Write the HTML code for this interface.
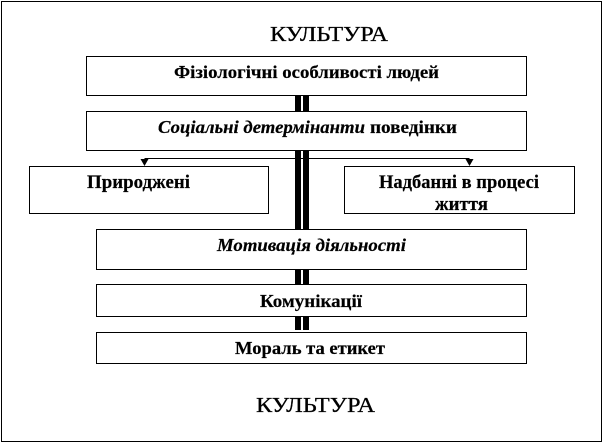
<!DOCTYPE html>
<html><head><meta charset="utf-8">
<style>html,body{margin:0;padding:0;background:#fff}svg{display:block}
text{font-family:"Liberation Serif","Noto Serif CJK SC",serif;fill:#000;font-weight:bold;font-size:17.5px;stroke:#000;stroke-width:.2px}
.c{font-weight:normal;font-size:21px;stroke-width:.3px}
.n{font-size:19px}
.i{font-style:italic}
rect{fill:#fff;stroke:#000;stroke-width:1;shape-rendering:crispEdges}
</style></head><body>
<svg width="604" height="444" viewBox="0 0 604 444" xmlns="http://www.w3.org/2000/svg">
<rect x="1.5" y="1.5" width="600" height="440"/>
<g shape-rendering="crispEdges">
<rect x="295" y="90" width="6" height="240" style="fill:#000;stroke:none"/>
<rect x="303" y="90" width="6" height="240" style="fill:#000;stroke:none"/>
<path d="M144.5 158.5H469.5" stroke="#000" fill="none"/>
</g>
<path d="M140.5 159L148.5 159L144.5 166Z" fill="#000"/>
<path d="M465.5 159L473.5 159L469.5 166Z" fill="#000"/>
<rect x="86.5" y="56.5" width="440" height="39"/>
<rect x="86.5" y="111.5" width="440" height="39"/>
<rect x="29.5" y="166.5" width="239" height="47"/>
<rect x="344.5" y="166.5" width="230" height="47"/>
<rect x="96.5" y="229.5" width="430" height="40"/>
<rect x="96.5" y="284.5" width="430" height="32"/>
<rect x="96.5" y="332.5" width="430" height="31"/>
<text class="c" x="270" y="41" textLength="118" lengthAdjust="spacingAndGlyphs">КУЛЬТУРА</text>
<text class="c" x="256" y="412" textLength="119" lengthAdjust="spacingAndGlyphs">КУЛЬТУРА</text>
<text x="174" y="78" textLength="265" lengthAdjust="spacingAndGlyphs">Фізіологічні особливості людей</text>
<text class="i" x="158" y="133" textLength="207" lengthAdjust="spacingAndGlyphs">Соціальні детермінанти</text>
<text x="370" y="133" textLength="87" lengthAdjust="spacingAndGlyphs">поведінки</text>
<text class="n" x="87" y="188" textLength="103" lengthAdjust="spacingAndGlyphs">Природжені</text>
<text class="n" x="379" y="188" textLength="160" lengthAdjust="spacingAndGlyphs">Надбанні в процесі</text>
<text class="n" x="435" y="210" textLength="53" lengthAdjust="spacingAndGlyphs">життя</text>
<text class="i" x="217" y="251" textLength="189" lengthAdjust="spacingAndGlyphs">Мотивація діяльності</text>
<text x="260" y="307" textLength="102" lengthAdjust="spacingAndGlyphs">Комунікації</text>
<text x="235" y="354" textLength="150" lengthAdjust="spacingAndGlyphs">Мораль та етикет</text>
</svg>
</body></html>
